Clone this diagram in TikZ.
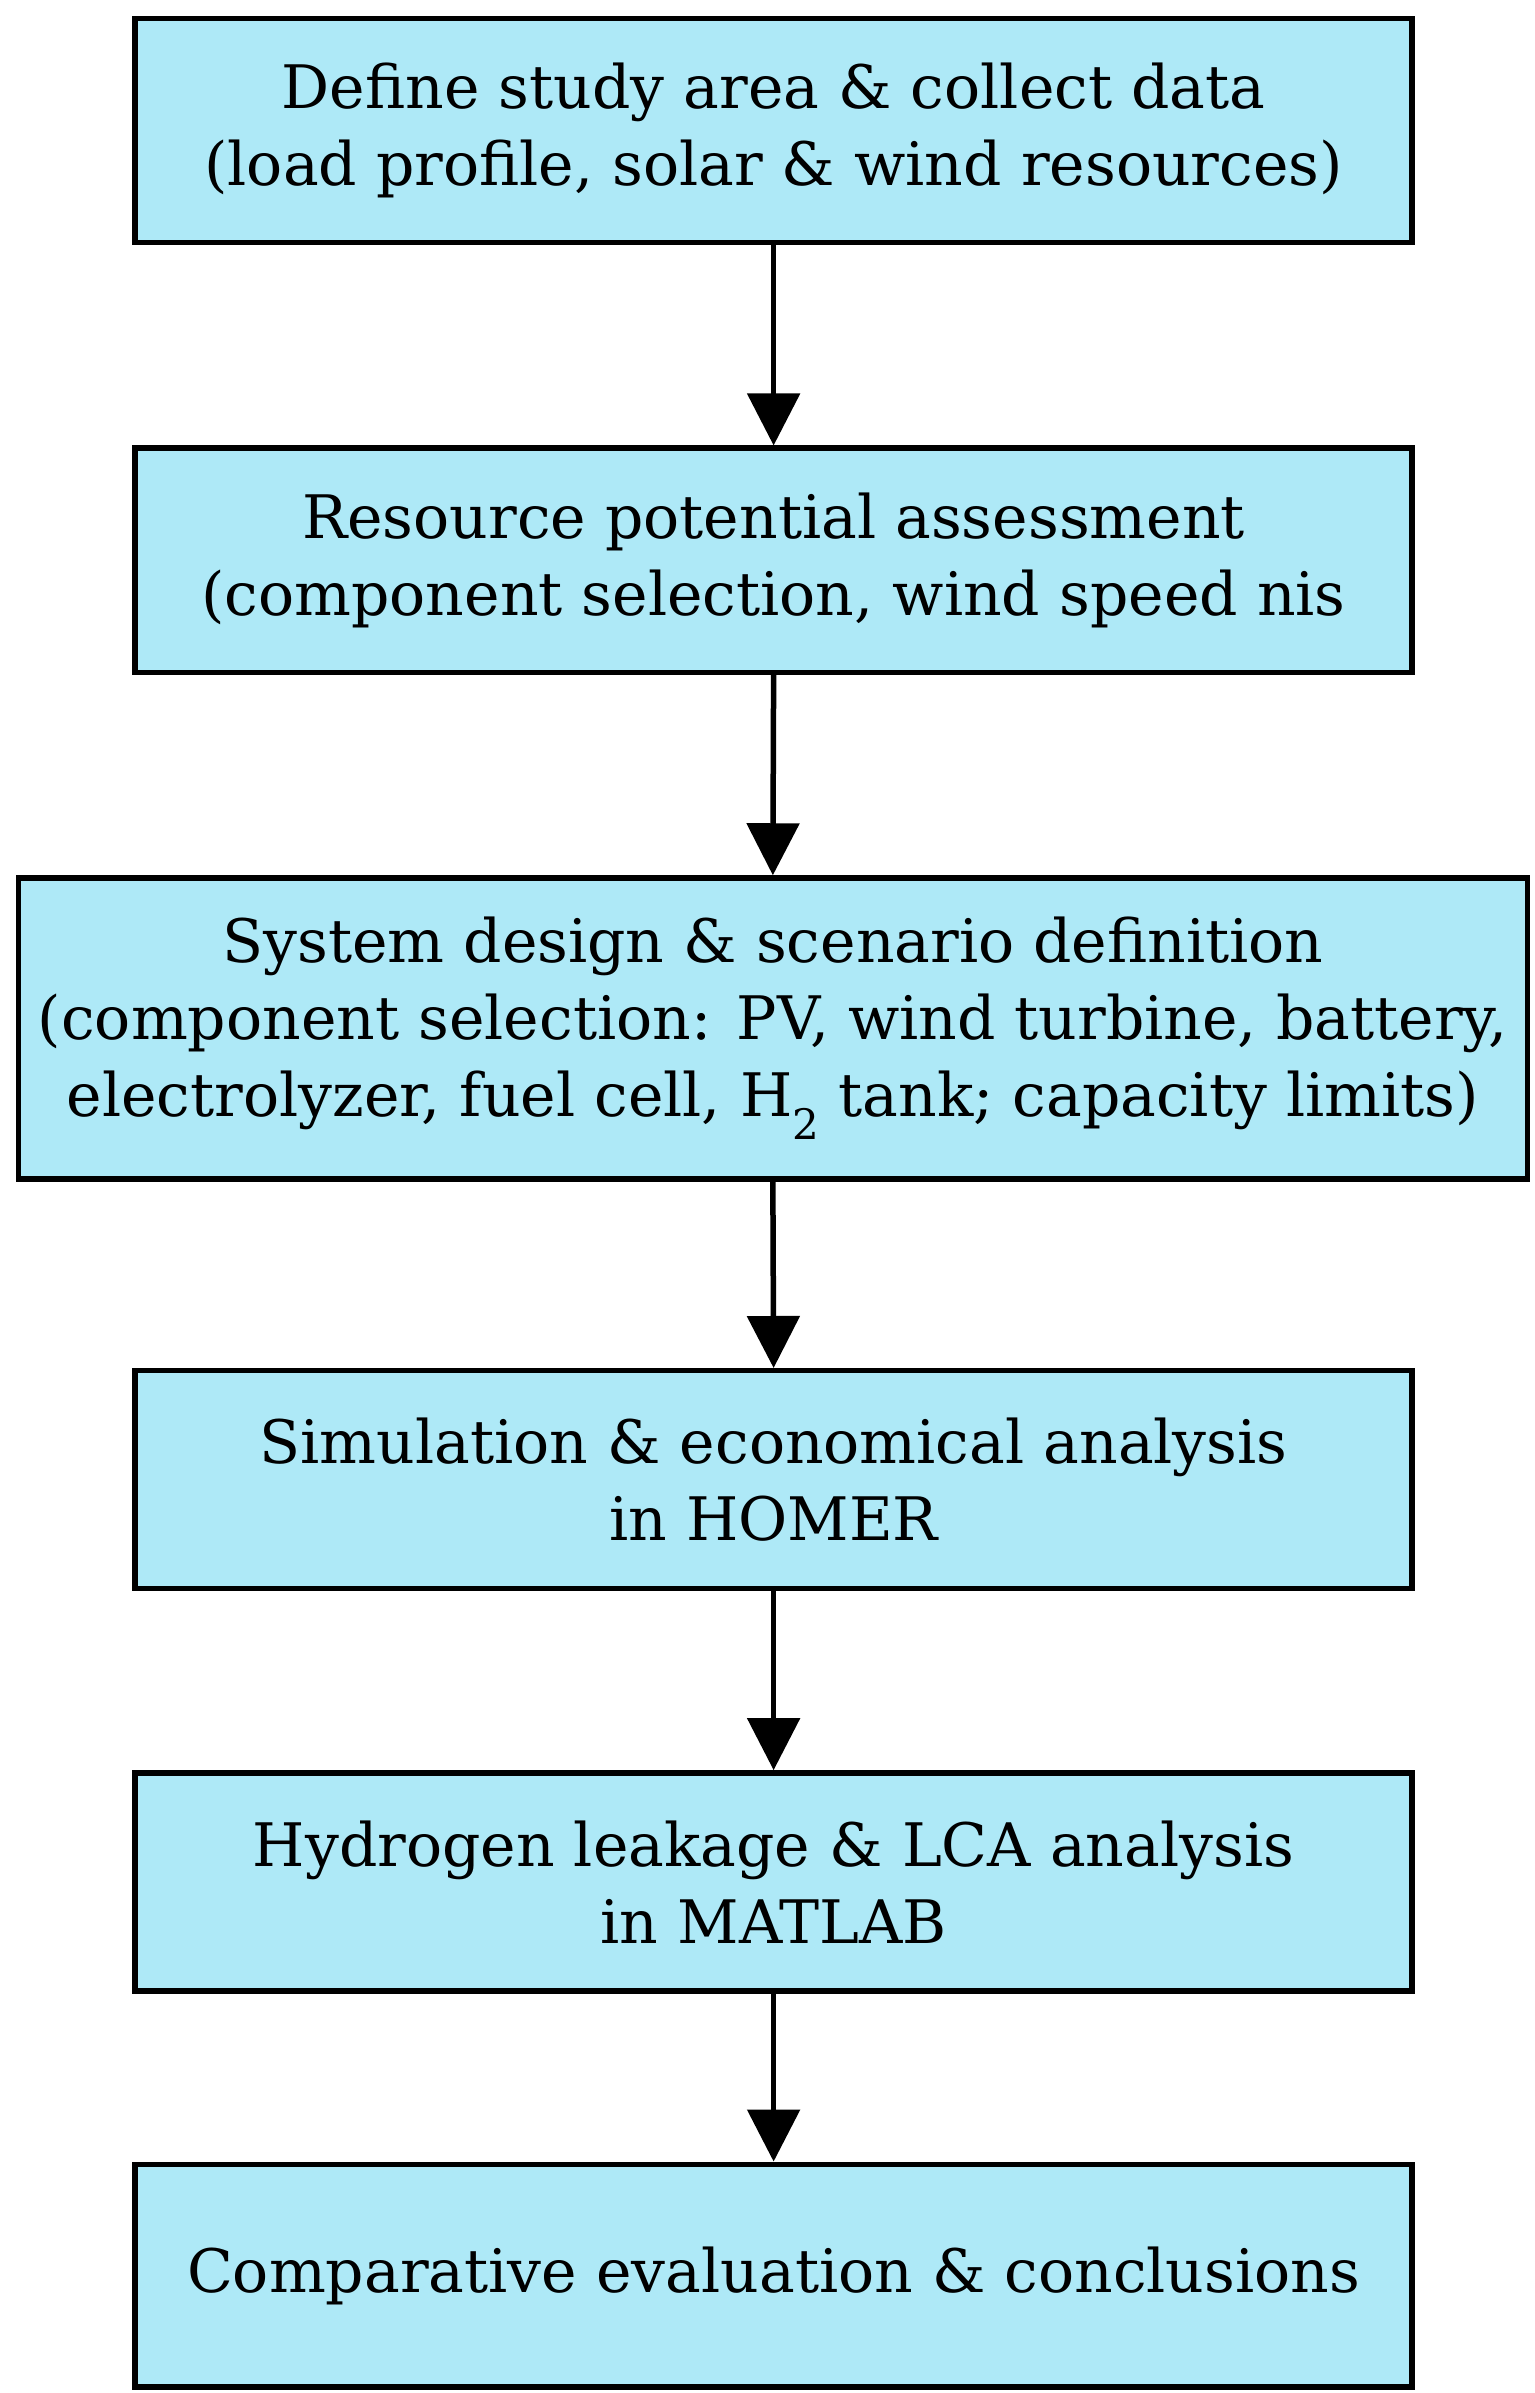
\documentclass[tikz,border=0pt]{standalone}
\usepackage{fontspec}
\setmainfont{DejaVu Serif}
\usetikzlibrary{arrows.meta}
\definecolor{boxfill}{HTML}{AEE9F7}
\begin{document}
\begin{tikzpicture}[x=1.535pt,y=-1.535pt,
  box/.style={draw=black,line width=5.5pt,fill=boxfill,inner sep=0pt,align=center,
    font=\fontsize{60}{77}\selectfont},
  arr/.style={line width=5.5pt,-{Triangle[length=52pt,width=52pt]}}]
\useasboundingbox (0,0) rectangle (1000,1559);
\node[box,minimum width=832*1.535pt,minimum height=146*1.535pt] (b1) at (504,85)
  {Define study area \& collect data\\(load profile, solar \& wind resources)};
\node[box,minimum width=832*1.535pt,minimum height=146*1.535pt] (b2) at (504,365)
  {Resource potential assessment\\(component selection, wind speed nis};
\node[box,minimum width=983*1.535pt,minimum height=196*1.535pt] (b3) at (503.5,670)
  {System design \& scenario definition\\(component selection: PV, wind turbine, battery,\\electrolyzer, fuel cell, H\textsubscript{2} tank; capacity limits)};
\node[box,minimum width=832*1.535pt,minimum height=142*1.535pt] (b4) at (504,964)
  {Simulation \& economical analysis\\in HOMER};
\node[box,minimum width=832*1.535pt,minimum height=142*1.535pt] (b5) at (504,1226)
  {Hydrogen leakage \& LCA analysis\\in MATLAB};
\node[box,minimum width=832*1.535pt,minimum height=145*1.535pt] (b6) at (504,1482.5)
  {Comparative evaluation \& conclusions};
\draw[arr] (b1.south) -- (b2.north);
\draw[arr] (b2.south) -- (b3.north);
\draw[arr] (b3.south) -- (b4.north);
\draw[arr] (b4.south) -- (b5.north);
\draw[arr] (b5.south) -- (b6.north);
\end{tikzpicture}
\end{document}
